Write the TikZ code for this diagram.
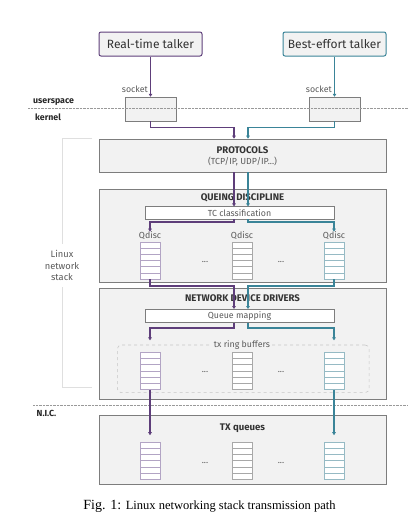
\documentclass[tikz,border=0pt]{standalone}
\usepackage{fontspec}
\setmainfont{Fira Sans}
\newfontfamily\capfont{Liberation Serif}
\usetikzlibrary{arrows.meta}
\definecolor{rtpurple}{RGB}{94,62,122}
\definecolor{beteal}{RGB}{58,132,152}
\definecolor{boxgray}{RGB}{242,242,242}
\definecolor{linegray}{RGB}{125,125,125}
\definecolor{textgray}{RGB}{90,90,90}
\definecolor{qpurple}{RGB}{178,164,196}
\definecolor{qgray}{RGB}{168,168,168}
\definecolor{qteal}{RGB}{150,186,196}

\begin{document}
\begin{tikzpicture}
[x=1pt,y=-1pt,-,%
  every node/.style={inner sep=0pt,text=textgray,font=\fontsize{8.8}{10}\selectfont},%
  talker/.style={draw=#1,fill=boxgray,line width=1pt,rounded corners=2pt,
    minimum width=103,minimum height=24,font=\fontsize{12}{14}\selectfont,text=black!80},%
  layer/.style={draw=linegray,fill=boxgray,line width=0.6pt,minimum width=287},%
  sockbox/.style={draw=linegray,fill=boxgray,line width=0.5pt,minimum width=51,minimum height=24},%
  inbox/.style={draw=linegray,fill=white,line width=0.5pt,minimum width=189},%
  title/.style={font=\fontsize{9.6}{11}\selectfont\bfseries,text=black!80},%
  side/.style={anchor=west,text=black!85,font=\fontsize{8.8}{10}\selectfont\bfseries},%
  queue/.style={draw=#1,fill=white,line width=0.5pt,minimum width=20,minimum height=37,
    path picture={\foreach \k in {1,...,5}
      \draw[#1,line width=0.5pt] ([yshift=-\k*6.1667pt]path picture bounding box.north west)
        -- ([yshift=-\k*6.1667pt]path picture bounding box.north east);}},%
  rtline/.style={draw=rtpurple,line width=1.2pt},%
  beline/.style={draw=beteal,line width=1.2pt},%
  tip/.style={-{Triangle[width=3.6pt,length=3pt]}},%
  sepline/.style={draw=gray!80,line width=0.7pt,dash pattern=on 0.7pt off 0.7pt}]
\useasboundingbox (0,0) rectangle (408,522);
% lanes of the two flows
\coordinate (lp) at (234,0);
\coordinate (lt) at (248,0);
% talkers and sockets
\node[talker=rtpurple] (rt) at (150.5,44) {Real-time talker};
\node[talker=beteal] (be) at (334.5,44) {Best-effort talker};
\node[sockbox] (sockL) at (150.5,109) {};
\node[sockbox] (sockR) at (334.5,109) {};
\node[anchor=east] (sockLlab) at (148,89.5) {socket};
\node[anchor=east] (sockRlab) at (332,89.5) {socket};
\node[side] (user) at (33,102) {userspace};
\node[side] (kern) at (35,117) {kernel};
\coordinate (usl) at (28,108.7);
\coordinate (usr) at (408,108.7);
% Linux network stack bracket
\coordinate (bk1) at (92,138);
\coordinate (bk2) at (62,138);
\coordinate (bk3) at (62,387);
\coordinate (bk4) at (92,387);
\draw[gray!25,line width=0.8pt] (bk1) -- (bk2) -- (bk3) -- (bk4);
\node[fill=white,inner ysep=7pt,inner xsep=2pt,align=center,
  font=\fontsize{9.3}{11.2}\selectfont] (stack) at (62,265.5) {Linux\\network\\stack};
% protocols
\node[layer,minimum height=33] (proto) at (242.5,155.5) {};
\node[title] (protot) at (242.5,150) {PROTOCOLS};
\node (protos) at (242.5,161.5) {(TCP/IP, UDP/IP...)};
% queing discipline
\node[layer,minimum height=93] (qd) at (242.5,235.5) {};
\node[title] (qdt) at (242.5,198) {QUEING DISCIPLINE};
\node[inbox,minimum height=12.3] (tc) at (239.5,212.85) {TC classification};
\node (ql1) at (150,235.7) {Qdisc};
\node (ql2) at (242,235.7) {Qdisc};
\node (ql3) at (334,235.7) {Qdisc};
\node[queue=qpurple] (q1) at (150,260.5) {};
\node[queue=qgray] (q2) at (242,260.5) {};
\node[queue=qteal] (q3) at (334,260.5) {};
\node (qd1) at (205,262) {...};
\node (qd2) at (281,262) {...};
% network device drivers
\node[layer,minimum height=111] (ndd) at (242.5,343.8) {};
\node[title] (nddt) at (242.5,297.7) {NETWORK DEVICE DRIVERS};
\node[inbox,minimum height=13] (qm) at (239.5,315.8) {Queue mapping};
\node[draw=gray!45,dashed,line width=0.6pt,rounded corners=4pt,
  minimum width=251.7,minimum height=47.7] (ring) at (243.2,368.8) {};
\node[fill=boxgray,inner xsep=2pt,inner ysep=1pt] (ringt) at (242,345) {tx ring buffers};
\node[queue=qpurple] (r1) at (150,370.8) {};
\node[queue=qgray] (r2) at (242,370.8) {};
\node[queue=qteal] (r3) at (334,370.8) {};
\node (rd1) at (205,372.3) {...};
\node (rd2) at (281,372.3) {...};
% N.I.C.
\coordinate (nicl) at (33,405);
\coordinate (nicr) at (408,405);
\node[side] (nic) at (36.5,413.3) {N.I.C.};
\node[layer,minimum height=68.6] (tx) at (242.5,450) {};
\node[title] (txt) at (242.5,428.7) {TX queues};
\node[queue=qpurple] (t1) at (150,460.7) {};
\node[queue=qgray] (t2) at (242,460.7) {};
\node[queue=qteal] (t3) at (334,460.7) {};
\node (td1) at (205,462.7) {...};
\node (td2) at (281,462.7) {...};
% separators
\draw[sepline] (usl) -- (usr);
\draw[sepline] (nicl) -- (nicr);
% real-time path
\draw[rtline,tip] (rt.south) -- (sockL.north);
\draw[rtline,tip] (sockL.south) -- ++(0,6) -| (lp |- proto.north);
\draw[rtline,tip] (lp |- proto.south) -- (lp |- tc.north);
\draw[rtline,tip] (lp |- tc.south) -- ++(0,2.7) -| (ql1.north);
\draw[rtline,tip] (q1.south) -- ++(0,6.7) -| (lp |- qm.north);
\draw[rtline,tip] (lp |- qm.south) -- ++(0,5.4) -| ([yshift=4.3pt]ring.north -| r1);
\draw[rtline,tip] (r1.south) -- ([yshift=-19.8pt]tx.north -| r1);
% best-effort path
\draw[beline,tip] (be.south) -- (sockR.north);
\draw[beline,tip] (sockR.south) -- ++(0,6) -| (lt |- proto.north);
\draw[beline,tip] (lt |- proto.south) -- (lt |- tc.north);
\draw[beline,tip] (lt |- tc.south) -- ++(0,2.7) -| (ql3.north);
\draw[beline,tip] (q3.south) -- ++(0,6.7) -| (lt |- qm.north);
\draw[beline,tip] (lt |- qm.south) -- ++(0,5.4) -| ([yshift=4.3pt]ring.north -| r3);
\draw[beline,tip] (r3.south) -- ([yshift=-19.8pt]tx.north -| r3);
% caption
\node[text=black] (cap) at (209.5,506)
  {\capfont\fontsize{14}{16}\selectfont Fig. 1: \fontsize{12.5}{15}\selectfont Linux networking stack transmission path};
\end{tikzpicture}
\end{document}
